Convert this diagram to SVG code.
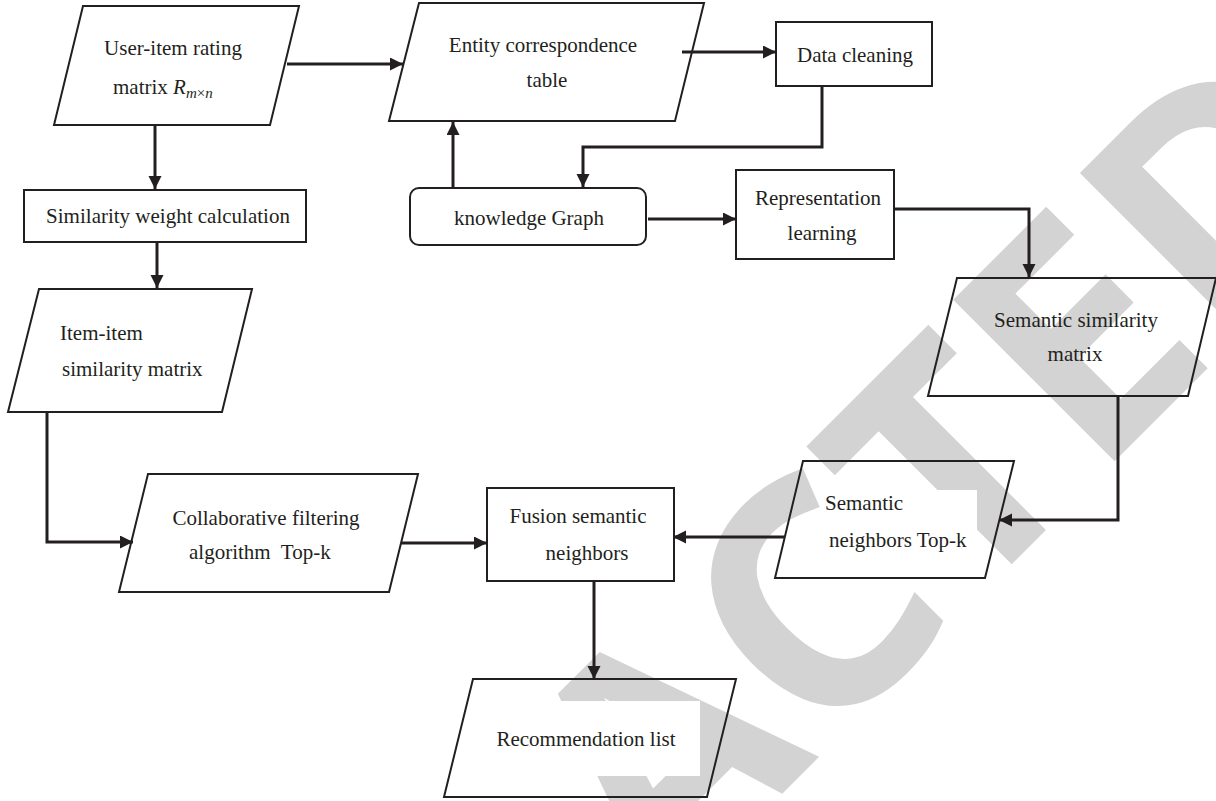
<svg xmlns="http://www.w3.org/2000/svg" width="1216" height="801" viewBox="0 0 1216 801">
<defs>
<style>
.shape { fill: none; stroke: #231f20; stroke-width: 2; stroke-linejoin: miter; }
.lbl { font-family: "Liberation Serif", "Times New Roman", serif; font-size: 21px; fill: #231f20; }
.sub { font-size: 15px; }
.conn { fill: none; stroke: #231f20; stroke-width: 3; }
.wm { font-family: "Open Sans", "DejaVu Sans", sans-serif; font-weight: 700; font-size: 320px; fill: #d3d3d3; }
.blank { fill: #ffffff; stroke: none; }
</style>
<marker id="arr" markerUnits="userSpaceOnUse" markerWidth="14" markerHeight="14" refX="13" refY="6.5" orient="auto">
<path d="M0,0 L13,6.5 L0,13 z" fill="#231f20"/>
</marker>
</defs>
<rect x="0" y="0" width="1216" height="801" fill="#ffffff"/>
<g id="watermark">
<text class="wm" transform="translate(804,772) rotate(-45)" text-anchor="middle">REDACTED</text>
</g>
<g id="n-rating">
<polygon class="shape" points="83,6 299,6 270,125 54,125"/>
<text class="lbl" x="173" y="55" text-anchor="middle">User-item rating</text>
<text class="lbl" x="113" y="94">matrix <tspan font-style="italic">R</tspan><tspan class="sub" font-style="italic" dy="4">m</tspan><tspan class="sub">×</tspan><tspan class="sub" font-style="italic">n</tspan></text>
</g>
<g id="n-simweight">
<rect class="shape" x="24" y="190" width="282" height="52"/>
<text class="lbl" x="168" y="223" text-anchor="middle">Similarity weight calculation</text>
</g>
<g id="n-itemitem">
<polygon class="shape" points="39,289 252,289 222,412 8,412"/>
<text class="lbl" x="60" y="340">Item-item</text>
<text class="lbl" x="62" y="376">similarity matrix</text>
</g>
<g id="n-collab">
<polygon class="shape" points="148,474 418,474 389,592 119,592"/>
<text class="lbl" x="266" y="525" text-anchor="middle">Collaborative filtering</text>
<text class="lbl" x="189" y="559" xml:space="preserve">algorithm  Top-k</text>
</g>
<g id="n-entity">
<polygon class="shape" points="419,3 704,3 675,121 389,121"/>
<text class="lbl" x="543" y="52" text-anchor="middle">Entity correspondence</text>
<text class="lbl" x="547" y="87" text-anchor="middle">table</text>
</g>
<g id="n-clean">
<rect class="shape" x="776" y="22" width="156" height="64"/>
<text class="lbl" x="855" y="62" text-anchor="middle">Data cleaning</text>
</g>
<g id="n-kg">
<rect class="shape" x="410" y="188" width="236" height="57" rx="9" ry="9"/>
<text class="lbl" x="529" y="225" text-anchor="middle">knowledge Graph</text>
</g>
<g id="n-repr">
<rect class="shape" x="736" y="170" width="158" height="89"/>
<text class="lbl" x="818" y="205" text-anchor="middle">Representation</text>
<text class="lbl" x="822" y="240" text-anchor="middle">learning</text>
</g>
<g id="n-semsim">
<polygon class="shape" points="957,278 1216,278 1188,396 928,396"/>
<text class="lbl" x="1076" y="327" text-anchor="middle">Semantic similarity</text>
<text class="lbl" x="1075" y="361" text-anchor="middle">matrix</text>
</g>
<g id="n-semnb">
<rect class="blank" x="822" y="490" width="155" height="64"/>
<polygon class="shape" points="803,461 1014,461 985,578 775,578"/>
<text class="lbl" x="825" y="510">Semantic</text>
<text class="lbl" x="829" y="547">neighbors Top-k</text>
</g>
<g id="n-fusion">
<rect class="shape" x="487" y="488" width="187" height="93"/>
<text class="lbl" x="578" y="523" text-anchor="middle">Fusion semantic</text>
<text class="lbl" x="587" y="560" text-anchor="middle">neighbors</text>
</g>
<g id="n-rec">
<rect class="blank" x="550" y="701" width="150" height="75"/>
<polygon class="shape" points="473,679 736,679 707,797 444,797"/>
<text class="lbl" x="586" y="746" text-anchor="middle">Recommendation list</text>
</g>
<g id="connectors">
<path class="conn" d="M287,64 H403" marker-end="url(#arr)"/>
<path class="conn" d="M155,125 V189" marker-end="url(#arr)"/>
<path class="conn" d="M157,242 V288" marker-end="url(#arr)"/>
<path class="conn" d="M47,412 V542 H133" marker-end="url(#arr)"/>
<path class="conn" d="M401,543 H487" marker-end="url(#arr)"/>
<path class="conn" d="M785,537 H673" marker-end="url(#arr)"/>
<path class="conn" d="M1118,396 V520 H999" marker-end="url(#arr)"/>
<path class="conn" d="M894,209 H1029 V277" marker-end="url(#arr)"/>
<path class="conn" d="M682,52 H776" marker-end="url(#arr)"/>
<path class="conn" d="M822,86 V147 H583 V187" marker-end="url(#arr)"/>
<path class="conn" d="M453,188 V122" marker-end="url(#arr)"/>
<path class="conn" d="M648,219 H736" marker-end="url(#arr)"/>
<path class="conn" d="M594,581 V679" marker-end="url(#arr)"/>
</g>
</svg>
